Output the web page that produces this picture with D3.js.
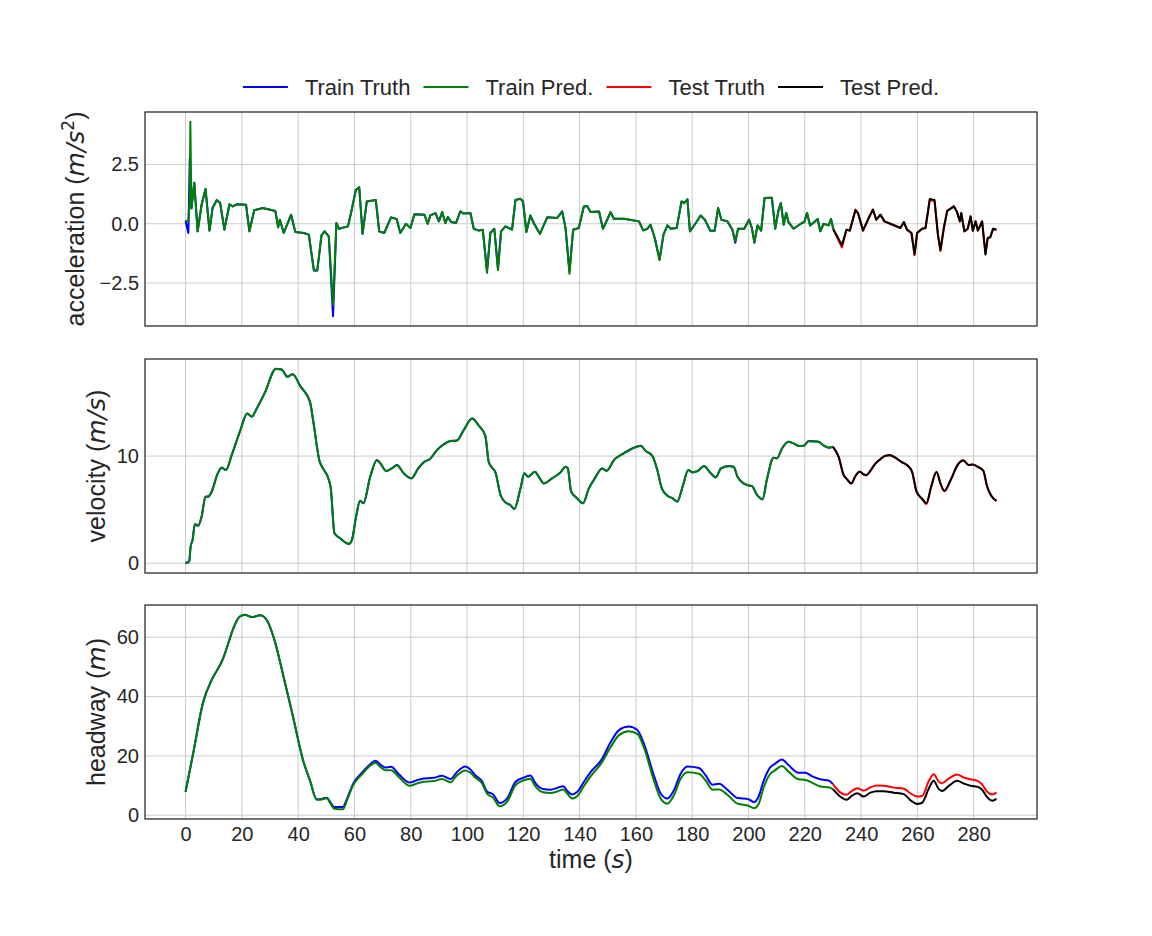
<!DOCTYPE html>
<html>
<head>
<meta charset="utf-8">
<script src="https://cdn.jsdelivr.net/npm/d3@7"></script>
<style>
  body { margin: 0; background: #fff; }
  text { font-family: "Liberation Sans", Arial, sans-serif; fill: #262626; }
</style>
</head>
<body>
<div id="chart"></div>
<script>

// ---- acceleration (m/s^2) ----
var accTrainT     = [0,1.0,1.5,1.7,2.1,3.1,4.3,5.7,7.1,8.5,9.6,11.1,12.3,13.8,15.6,16.8,18.2,21.5,22.7,24.4,27.5,31.9,32.9,33.5,34.9,37.5,39.0,42,43.8,45.6,46.8,48.3,49.4,50.9,52.4,53.6,54.5,57.7,58.9,60.5,61.7,62.9,64.4,67.6,68.8,70.6,73,75,76.3,78.3,79.9,81.3,84.9,86,87,88.8,90,91.2,92.3,93.2,94.4,96.1,97.6,98.8,101.2,102.4,104.2,105.6,107.1,108.3,109.7,111,112.1,113.6,116,117.2,119,119.9,121.1,122.5,123.7,125.9,128.5,132,133.8,135,136.4,137.7,139.7,141.5,142.7,143.9,146.9,148.3,149.8,151,152.2,155.8,161.1,162.6,164.1,165.2,166.7,168.4,169.8,171.2,172.4,174.5,176.2,177.1,178.3,179.2,181.3,183,184.5,186.4,188,189.2,190.4,192.5,194.3,195.3,196.3,198.5,200.2,201.2,202.1,203.2,204.5,205.7,208.3,209.5,210.7,211.5,212.5,213.4,214.2,216,219,219.8,220.8,221.9,223.4,224.6,225.5,226.7,228.5,229.3,230.2];
var accTrainTruth = [0.13,-0.39,2.75,1.2,0.65,1.73,-0.32,0.8,1.47,-0.29,0.66,1.0,0.87,-0.25,0.82,0.73,0.82,0.8,-0.32,0.57,0.66,0.54,-0.15,0.17,-0.39,0.38,-0.35,-0.39,-0.46,-1.97,-1.97,-0.49,-0.32,-0.53,-3.9,0.03,-0.21,-0.11,0.52,1.42,1.54,-0.43,0.94,1.0,-0.32,-0.39,0.27,0.2,-0.39,0,-0.18,0.4,0.38,0,0.35,0.45,0.1,0.49,0.03,0.28,0.07,0.03,0.52,0.43,0.45,-0.21,-0.29,-0.25,-2.0,-0.39,-0.21,-1.9,-0.32,-0.11,-0.25,1.0,1.05,0.94,-0.35,0.35,0.03,-0.43,0.27,0.24,0.52,-0.18,-2.0,-0.25,-0.18,0.73,0.75,0.49,0.52,-0.21,0.17,0.49,0.21,0.21,0.1,-0.28,-0.21,-0.04,-0.6,-1.5,-0.46,-0.07,-0.21,-0.18,0.94,0.87,1.03,-0.32,0.03,0.35,0.17,-0.29,-0.29,0.66,0.17,0.1,-0.25,-0.8,-0.21,-0.21,0.17,-0.18,-0.8,-0.07,-0.29,1.08,1.1,-0.21,0.59,0.87,-0.04,0.45,0.07,-0.21,0.03,0.07,0.45,-0.07,0.07,0.2,-0.32,0,-0.07,0.2,-0.25];
var accTrainPred  = [0.13,0.1,1.0,4.3,0.65,1.73,-0.32,0.8,1.47,-0.29,0.66,1.0,0.87,-0.25,0.82,0.73,0.82,0.8,-0.32,0.57,0.66,0.54,-0.15,0.17,-0.39,0.38,-0.35,-0.39,-0.46,-1.97,-1.97,-0.49,-0.32,-0.53,-3.4,0.03,-0.21,-0.11,0.52,1.42,1.54,-0.43,0.94,1.0,-0.32,-0.39,0.27,0.2,-0.39,0,-0.18,0.4,0.38,0,0.35,0.45,0.1,0.49,0.03,0.28,0.07,0.03,0.52,0.43,0.45,-0.21,-0.29,-0.25,-2.07,-0.39,-0.21,-1.96,-0.32,-0.11,-0.25,1.0,1.05,0.94,-0.35,0.35,0.03,-0.43,0.27,0.24,0.52,-0.18,-2.11,-0.25,-0.18,0.73,0.75,0.49,0.52,-0.21,0.17,0.49,0.21,0.21,0.1,-0.28,-0.21,-0.04,-0.6,-1.54,-0.46,-0.07,-0.21,-0.18,0.94,0.87,1.03,-0.32,0.03,0.35,0.17,-0.29,-0.29,0.66,0.17,0.1,-0.25,-0.74,-0.21,-0.21,0.17,-0.18,-0.77,-0.07,-0.29,1.08,1.1,-0.21,0.59,0.87,-0.04,0.45,0.07,-0.21,0.03,0.07,0.45,-0.07,0.07,0.2,-0.32,0,-0.07,0.2,-0.25];

var accTestT      = [230.2,231.4,233.2,234.8,236,238,238.9,240.7,242.7,244.2,245.4,246.9,248.3,250.4,254,255.2,256.3,257.9,259,259.9,261.7,262.9,264.4,266.1,267.3,268.2,269.4,270.6,273,274.1,275.1,275.6,276.7,277.9,278.9,279.7,280.7,281.5,283,284.2,285,285.9,286.9,288.1];
var accTestTruth  = [-0.25,-0.55,-1.0,-0.25,-0.29,0.6,0.45,-0.3,0.24,0.59,0.17,0.38,0.1,0,-0.18,0.07,-0.25,-0.39,-1.33,-0.39,-0.21,-0.18,1.0,0.96,-0.46,-1.15,-0.18,0.54,0.73,0.49,0.1,0.45,-0.32,-0.21,0.31,-0.29,0.1,-0.29,0.1,-1.25,-0.6,-0.57,-0.21,-0.25];
var accTestPred   = [-0.25,-0.5,-0.9,-0.25,-0.29,0.57,0.45,-0.28,0.24,0.6,0.17,0.38,0.1,0,-0.18,0.07,-0.25,-0.39,-1.28,-0.39,-0.21,-0.18,1.04,1.0,-0.46,-1.1,-0.18,0.54,0.73,0.49,0.1,0.45,-0.32,-0.21,0.31,-0.29,0.1,-0.29,0.1,-1.3,-0.6,-0.57,-0.21,-0.25];

// ---- velocity (m/s) ----
var velTrainT     = [0,1.3,1.8,2.5,3.3,4.5,5.7,7.1,8.1,9.3,11.3,12.8,14.4,16.4,19.3,21.9,23.5,25.3,28.2,32.1,34.2,36.2,38.1,40.7,44.2,45.4,47.6,48.8,50.8,51.6,52.9,54.9,58.1,59.1,60.6,62,63.2,65.6,68,69.2,71.3,73.3,75.1,77.5,80.2,82.8,85.2,86.7,89.3,91.7,94.1,96.4,98.8,101.8,104.2,106.5,107.7,108.9,110.1,111.9,113.6,115.4,116.8,119,120.4,121.7,124.1,125.5,127.3,130.2,133.2,135,135.8,137,139.1,141.2,143.3,145.4,148,149.6,152.2,155.2,158.7,161.7,163.5,165.8,167.6,169.2,171.2,173,174.7,176.7,178.6,180.1,181.9,184.2,186.6,188.4,190.2,193.1,194.7,196.1,198.2,200.2,201.2,203,205,206.5,208.9,210.1,211.9,214.2,216,218.1,219.6,221.4,224.9,226.5,228.5,230];
var velTrainTruth = [0.0,0.16,1.55,2.17,3.63,3.5,4.35,6.21,6.21,6.68,8.29,8.91,8.7,10.09,12.27,13.98,13.66,14.44,15.93,18.15,18.07,17.39,17.64,16.55,15.06,13.2,9.53,8.85,7.86,6.99,2.8,2.33,1.8,2.17,4.35,5.84,5.59,8.07,9.63,9.32,8.6,8.85,9.16,8.39,7.92,8.91,9.53,9.69,10.56,11.09,11.4,11.45,12.42,13.51,12.83,11.89,9.47,8.91,8.48,6.37,5.68,5.43,5.06,6.99,8.39,8.07,8.54,8.07,7.45,7.92,8.48,9.01,8.85,6.68,6.06,5.59,6.99,7.92,8.85,8.63,9.63,10.19,10.71,10.96,10.47,10.03,8.7,6.99,6.3,6.06,5.75,7.24,8.7,8.48,8.6,9.07,8.39,8.01,8.85,9.07,9.01,8.07,7.45,7.24,7.2,6.37,5.96,7.76,9.84,9.78,10.71,11.34,11.18,10.93,10.96,11.4,11.34,11.02,10.78,10.87];
var velTrainPred  = [0.05,0.2,1.55,2.2,3.65,3.55,4.35,6.21,6.25,6.7,8.29,8.93,8.72,10.1,12.28,13.98,13.7,14.45,15.93,18.12,18.05,17.42,17.64,16.56,15.08,13.2,9.55,8.86,7.88,6.99,2.82,2.35,1.82,2.18,4.35,5.84,5.62,8.07,9.62,9.34,8.62,8.86,9.15,8.4,7.94,8.9,9.52,9.7,10.55,11.08,11.4,11.46,12.4,13.5,12.84,11.9,9.48,8.92,8.49,6.38,5.7,5.44,5.08,6.99,8.38,8.08,8.53,8.08,7.46,7.92,8.47,9.0,8.86,6.7,6.07,5.6,6.99,7.92,8.84,8.64,9.62,10.18,10.7,10.95,10.48,10.04,8.71,7.0,6.31,6.07,5.78,7.24,8.69,8.5,8.61,9.06,8.4,8.03,8.84,9.06,9.0,8.08,7.46,7.25,7.21,6.4,5.99,7.76,9.83,9.79,10.7,11.33,11.19,10.94,10.96,11.39,11.33,11.03,10.79,10.87];

var velTestT      = [230,232,233.8,235,236.5,238,239.5,240.7,241.9,243.3,245.1,246.9,248.6,250.2,252.2,254.6,256.3,258.1,259.7,261.7,263.2,264.9,266.8,268.2,269.6,271.8,274.4,276.3,278.3,279.7,281.3,283.4,284.8,286.2,288.1];
var velTestTruth  = [10.87,9.94,8.23,7.83,7.42,8.14,8.54,8.32,8.2,8.63,9.32,9.72,10.03,10.09,9.84,9.41,9.16,8.54,6.68,5.99,5.52,7.14,8.54,7.42,6.72,7.76,9.22,9.6,9.16,9.22,9.01,8.63,7.14,6.3,5.8];
var velTestPred   = [10.87,9.96,8.25,7.85,7.46,8.14,8.56,8.33,8.24,8.63,9.3,9.72,10.02,10.08,9.85,9.42,9.17,8.56,6.7,6.02,5.6,7.14,8.52,7.46,6.76,7.76,9.2,9.58,9.17,9.22,9.02,8.64,7.16,6.32,5.84];

// ---- headway (m) ----
var hwTrainT      = [0,2.7,6.3,9.3,13.4,15.2,17,19.3,21.1,23.5,26.5,28.8,31.2,34.8,38.3,41.9,44.2,46.6,48.4,50.2,51.1,52.8,55.9,57.3,59.7,62.6,65.6,67.4,69.2,70.9,73,75.7,79.6,82.2,84.6,88.1,91.1,94.1,96.4,99.4,101.2,103,105.3,107.1,109.3,111.6,114.2,117.2,119.9,122.5,124.3,126.7,129.7,132,134.2,135.6,137.4,139.1,141.5,143.9,148,151,154,157.5,160.5,162.9,166.4,168.8,171.2,173.5,175.9,178.3,182.4,184.8,187.2,189.6,192.5,196.1,200,202,203.6,205.3,207.7,209.5,211.9,214.2,217.8,220.2,222.5,225.5,228.5,230];
var hwTrainTruth  = [7.9,20.8,38.3,45.6,53,58,63.1,67,67.6,66.8,67.4,65.9,60.3,46.8,32.7,18.0,11.8,5.4,5.5,5.9,4.9,2.8,2.8,5.4,10.9,14.3,17.2,18.4,17.1,16.1,16.3,13.9,11,11.8,12.4,12.6,13.3,12.2,14.5,16.4,15.4,13.4,11.5,8.0,7,4.1,5.6,11.2,12.6,13.4,10.8,8.9,8.6,9.2,9.8,8.2,7,7.8,11.2,14.5,19,24.6,28.7,29.9,28.7,24,13.4,7.3,5.6,8.4,14,16.4,15.9,13.4,10.3,10.6,8.6,5.8,5.4,4.4,6.3,11.3,16.1,17.4,18.8,16.9,14.3,14.3,13.2,12.1,11.7,10.5];
var hwTrainPred   = [7.9,20.8,38.3,45.6,53,58,63.1,67,67.6,66.8,67.4,65.9,60.3,46.8,32.7,18.0,11.7,5.2,5.3,5.7,4.6,2.2,2.0,4.9,10.4,13.7,16.7,17.7,16.3,15.2,15.2,13,9.9,10.7,11.3,11.5,12.2,11.1,13.4,15.1,14.3,12.6,10.8,7.3,5.9,3.0,4.5,10.1,11.7,12.3,9.7,7.8,7.5,8,8.7,7.3,5.6,6.4,9.8,13.1,17.9,22.9,27,28.3,27.4,22.7,11.7,5.6,3.9,6.7,12.3,14.5,14,11.7,8.6,8.7,6.9,3.9,3.2,2.4,3.8,9.1,13.9,15.2,16.6,14.7,12.1,11.9,11,9.7,9.4,8.8];

var hwTestT       = [230,232.6,234.8,236.8,238.6,240.9,243.3,245.7,248,251.6,255.2,257.5,259.9,261.7,264.1,265.8,267.6,268.8,271.2,274.1,276.5,278.9,281.3,283,284.8,286.6,288.1];
var hwTestTruth   = [10.5,7.7,6.9,8.2,9.1,8.3,9.4,10,9.9,9.3,8.9,7.4,6.3,6.5,11.6,13.8,11.3,10.8,12.4,13.7,12.7,12.1,11.6,10.4,7.9,7,7.7];
var hwTestPred    = [8.8,6.3,5.2,6.6,7.4,6.3,7.6,8.1,8.1,7.6,7.1,5.1,3.8,4.2,9.1,11.6,8.8,8.2,9.9,11.6,10.7,9.9,9.6,8.6,6.1,4.9,5.5];

var xTicks = [0,20,40,60,80,100,120,140,160,180,200,220,240,260,280];
var legendLabels = ['Train Truth', 'Train Pred.', 'Test Truth', 'Test Pred.'];
var seriesColors = ['#0000ff', '#008000', '#ff0000', '#000000'];

var width = 1152, height = 936;
var left = 145, right = 1037;

var svg = d3.select('#chart').append('svg')
  .attr('width', width)
  .attr('height', height)
  .style('display', 'block');

// shared x scale, matplotlib-like 5% margins
var allT = accTrainT.concat(accTestT);
var tMin = d3.min(allT), tMax = d3.max(allT);
var tPad = (tMax - tMin) * 0.05;
var x = d3.scaleLinear().domain([tMin - tPad, tMax + tPad]).range([left, right]);

function pairs(t, v) { return t.map((d, i) => [d, v[i]]); }

function panel(top, bottom, series, ticks, fmt, labelX, labelParts, curve) {
  var vals = d3.merge(series.map(s => s[1]));
  var lo = d3.min(vals), hi = d3.max(vals), pad = (hi - lo) * 0.05;
  var y = d3.scaleLinear().domain([lo - pad, hi + pad]).range([bottom, top]);

  var g = svg.append('g');

  // grid
  g.selectAll('.vgrid').data(xTicks).enter().append('line')
    .attr('x1', d => x(d)).attr('x2', d => x(d))
    .attr('y1', top).attr('y2', bottom)
    .attr('stroke', '#cccccc').attr('stroke-width', 1);
  g.selectAll('.hgrid').data(ticks).enter().append('line')
    .attr('x1', left).attr('x2', right)
    .attr('y1', d => y(d)).attr('y2', d => y(d))
    .attr('stroke', '#cccccc').attr('stroke-width', 1);

  // y tick labels
  var yAxis = d3.axisLeft(y).tickValues(ticks).tickSize(0).tickPadding(6).tickFormat(fmt);
  var ag = g.append('g').attr('transform', `translate(${left},0)`).call(yAxis);
  ag.select('.domain').remove();
  ag.selectAll('text')
    .style('font-family', '"Liberation Sans", Arial, sans-serif')
    .style('font-size', '20px')
    .attr('fill', '#262626');

  // lines
  var clip = 'clip' + top;
  svg.append('clipPath').attr('id', clip).append('rect')
    .attr('x', left).attr('y', top).attr('width', right - left).attr('height', bottom - top);

  var line = d3.line().x(d => x(d[0])).y(d => y(d[1])).curve(curve);
  series.forEach((s, i) => {
    g.append('path')
      .attr('clip-path', `url(#${clip})`)
      .attr('d', line(pairs(s[0], s[1])))
      .attr('fill', 'none')
      .attr('stroke', seriesColors[i])
      .attr('stroke-width', 2)
      .attr('stroke-linejoin', 'round');
  });

  // frame
  g.append('rect')
    .attr('x', left).attr('y', top)
    .attr('width', right - left).attr('height', bottom - top)
    .attr('fill', 'none').attr('stroke', '#262626').attr('stroke-width', 1.25);

  // y label with mathtext-ish parts
  var lab = g.append('text')
    .attr('transform', `translate(${labelX},${(top + bottom) / 2}) rotate(-90)`)
    .attr('text-anchor', 'middle')
    .style('font-size', '25px');
  labelParts.forEach(p => {
    var ts = lab.append('tspan').text(p.t);
    if (p.it) ts.style('font-family', '"DejaVu Sans", sans-serif').style('font-style', 'italic');
    if (p.sup) ts.style('font-family', '"DejaVu Sans", sans-serif').style('font-size', '17px').attr('dy', -10);
    if (p.down) ts.attr('dy', 10);
  });

  return y;
}

var fmt1 = d => d3.format('.1f')(d).replace('-', '\u2212');

panel(112, 326,
  [[accTrainT, accTrainTruth], [accTrainT, accTrainPred], [accTestT, accTestTruth], [accTestT, accTestPred]],
  [-2.5, 0, 2.5], fmt1, 84,
  [{t: 'acceleration ('}, {t: 'm/s', it: true}, {t: '2', sup: true}, {t: ')', down: true}],
  d3.curveLinear);

panel(359, 573,
  [[velTrainT, velTrainTruth], [velTrainT, velTrainPred], [velTestT, velTestTruth], [velTestT, velTestPred]],
  [0, 10], d3.format('d'), 105,
  [{t: 'velocity ('}, {t: 'm/s', it: true}, {t: ')'}],
  d3.curveMonotoneX);

panel(605, 819,
  [[hwTrainT, hwTrainTruth], [hwTrainT, hwTrainPred], [hwTestT, hwTestTruth], [hwTestT, hwTestPred]],
  [0, 20, 40, 60], d3.format('d'), 105,
  [{t: 'headway ('}, {t: 'm', it: true}, {t: ')'}],
  d3.curveMonotoneX);

// x tick labels on bottom panel only
var xAxis = d3.axisBottom(x).tickValues(xTicks).tickSize(0).tickPadding(8).tickFormat(d3.format('d'));
var xg = svg.append('g').attr('transform', 'translate(0,819)').call(xAxis);
xg.select('.domain').remove();
xg.selectAll('text')
  .style('font-family', '"Liberation Sans", Arial, sans-serif')
  .style('font-size', '20px')
  .attr('fill', '#262626');

var xl = svg.append('text')
  .attr('x', (left + right) / 2).attr('y', 868)
  .attr('text-anchor', 'middle')
  .style('font-size', '25px');
xl.append('tspan').text('time (');
xl.append('tspan').text('s').style('font-family', '"DejaVu Sans", sans-serif').style('font-style', 'italic');
xl.append('tspan').text(')');

// legend across the top
var leg = svg.append('g');
var cx = 0;
legendLabels.forEach((name, i) => {
  var item = leg.append('g').attr('transform', `translate(${cx},0)`);
  item.append('line').attr('x1', 0).attr('x2', 45).attr('y1', 0).attr('y2', 0)
    .attr('stroke', seriesColors[i]).attr('stroke-width', 2);
  var t = item.append('text').attr('x', 62).attr('y', 8).style('font-size', '22px').text(name);
  cx += 62 + t.node().getComputedTextLength() + 13;
});
var legW = cx - 13;
leg.attr('transform', `translate(${(left + right) / 2 - legW / 2},87)`);

</script>
</body>
</html>
